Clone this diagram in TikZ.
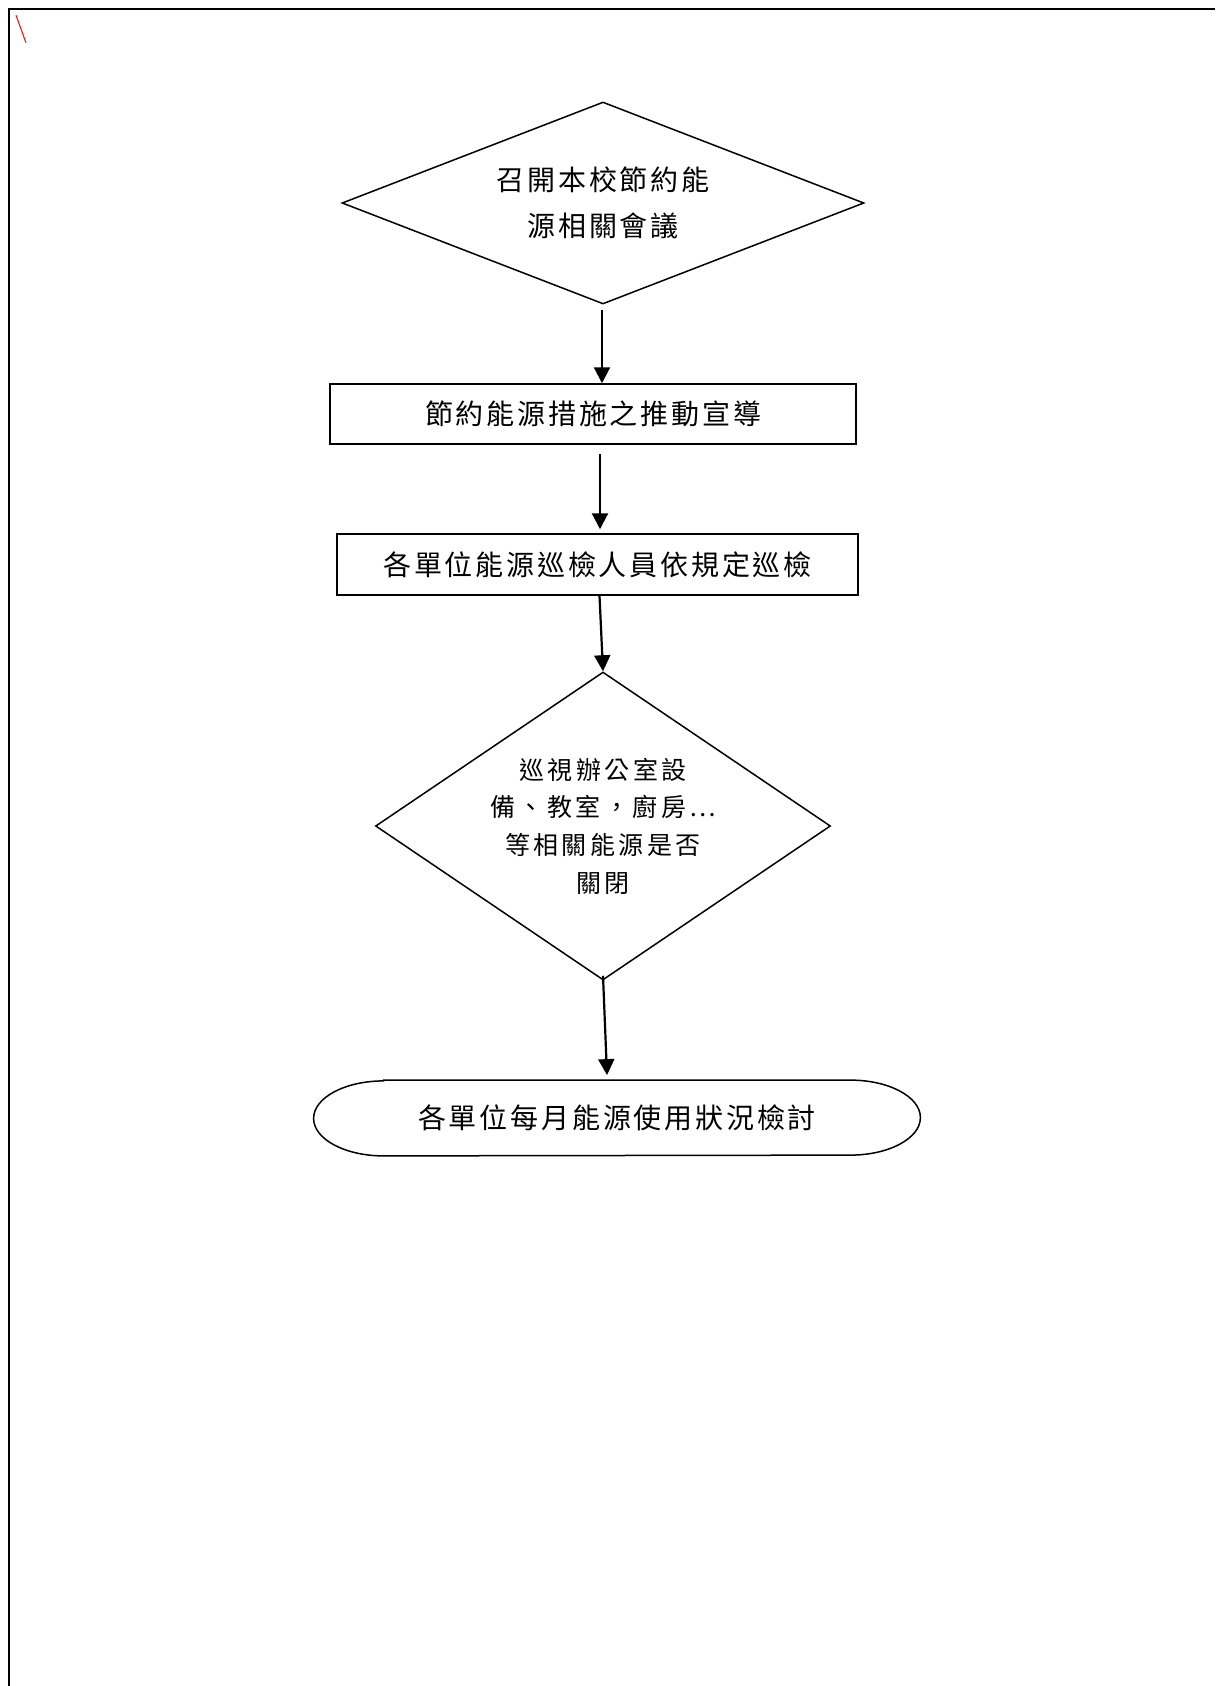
\documentclass[tikz,border=0pt]{standalone}
\usepackage{fontspec}
\newfontfamily\cjk[LetterSpace=10]{Noto Sans CJK TC}
\newfontfamily\cjksmall[LetterSpace=14]{Noto Sans CJK TC}
\usetikzlibrary{shapes.geometric,arrows.meta,calc}
\begin{document}
\begin{tikzpicture}[x=0.5pt,y=-0.5pt,
  shapeline/.style={draw,line width=0.75pt},
  conn/.style={line width=1.1pt,-{Triangle[width=8pt,length=8pt]}},
  bigtxt/.style={font=\cjk\fontsize{14}{23}\selectfont},
  smalltxt/.style={font=\cjksmall\fontsize{12.5}{18.8}\selectfont},
  boxnode/.style={shapeline,rectangle,inner sep=0pt,bigtxt},
  decision/.style={shapeline,diamond,inner sep=0pt,align=center},
 ]
\useasboundingbox (0,0) rectangle (1215,1686);
\draw[line width=1pt] (9,1686) -- (9,9) -- (1215,9);
\node[text=red,inner sep=0pt,font=\fontsize{14}{14}\selectfont] (bs) at (21,30) {\textbackslash};

\node[decision,aspect=2.58,minimum width=261pt,minimum height=101pt,bigtxt] (d1) at (603,203) {召開本校節約能\\源相關會議};
\node[boxnode,minimum width=263pt,minimum height=30pt] (b1) at (593,414) {節約能源措施之推動宣導};
\node[boxnode,minimum width=260.5pt,minimum height=30.5pt] (b2) at (597.5,564.5) {各單位能源巡檢人員依規定巡檢};
\node[decision,aspect=1.48,minimum width=227.5pt,minimum height=154pt,smalltxt] (d2) at (603,826) {巡視辦公室設\\備、教室，廚房⋯\\等相關能源是否\\關閉};
\node[inner sep=0pt,minimum width=303pt,minimum height=37.5pt,bigtxt] (t) at (617,1118) {各單位每月能源使用狀況檢討};
\draw[shapeline] ([xshift=35pt]t.north west) -- ([xshift=-35pt]t.north east)
  arc[start angle=90,end angle=-90,x radius=35pt,y radius=18.75pt]
  -- ([xshift=35pt]t.south west)
  arc[start angle=270,end angle=90,x radius=35pt,y radius=18.75pt] -- cycle;

\coordinate (a1) at ($(d1.south)+(-1,5)$);
\draw[conn] (a1) -- (a1 |- b1.north);
\coordinate (a2) at ($(b1.south)+(7,9)$);
\draw[conn,shorten >=2pt] (a2) -- (a2 |- b2.north);
\draw[conn] ([xshift=1pt]b2.south) -- (d2.north);
\coordinate (a4) at ($(t.north)+(-10,-5)$);
\draw[conn] ([yshift=2.5pt]d2.south) -- (a4);
\end{tikzpicture}
\end{document}
